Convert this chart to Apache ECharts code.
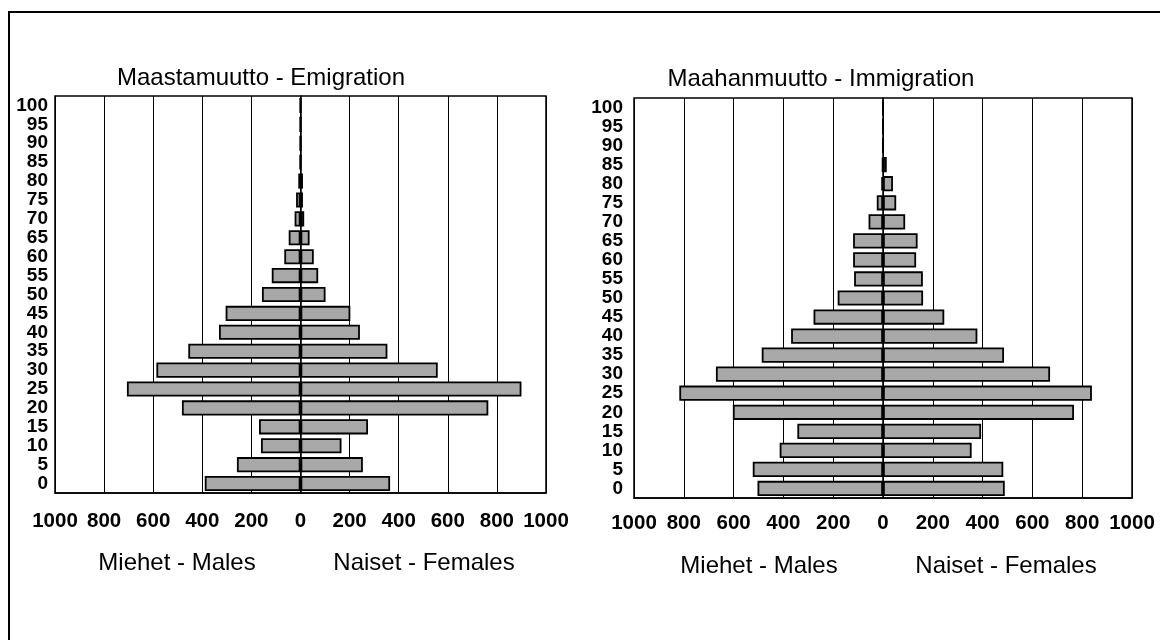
<!DOCTYPE html>
<html>
<head>
<meta charset="utf-8">
<script src="https://cdn.jsdelivr.net/npm/echarts@6/dist/echarts.min.js"></script>
<style>
html,body{margin:0;padding:0;background:#fff;}
#chart{width:1160px;height:640px;}
</style>
</head>
<body>
<div id="chart"></div>
<script>
// Age groups (bottom to top)
const ages = ['0','5','10','15','20','25','30','35','40','45','50','55','60','65','70','75','80','85','90','95','100'];
// Emigration (Maastamuutto)
const emigMales   = [390, 259, 161, 169, 483, 707, 587, 457, 332, 305, 157, 117, 66, 48, 24, 18, 9, 2, 0, 0, 0];
const emigFemales = [365, 254, 167, 275, 765, 900, 559, 354, 242, 203, 102, 72, 54, 37, 15, 10, 10, 2, 0, 0, 0];
// Immigration (Maahanmuutto)
const immMales    = [504, 523, 415, 344, 603, 818, 671, 487, 369, 279, 182, 116, 120, 120, 58, 25, 7, 3, 1, 0, 0];
const immFemales  = [489, 483, 356, 394, 767, 839, 671, 486, 379, 246, 161, 160, 133, 139, 89, 53, 40, 15, 1, 0, 0];
// Axis ticks
const xMin = -1000, xMax = 1000, xStep = 200;

const tickFont = "'Liberation Sans', Arial, sans-serif";
const regular = "'Liberation Sans', Arial, sans-serif";

const chart = echarts.init(document.getElementById('chart'), null, {renderer: 'canvas'});

const grids = [
  {left: 55, top: 96, width: 491, height: 397},
  {left: 634, top: 98, width: 498, height: 400}
];

function xAxis(i, margin) {
  return {
    type: 'value', gridIndex: i, min: xMin, max: xMax, interval: xStep,
    axisLine: {show: true, onZero: false, lineStyle: {color: '#000', width: 1.5}},
    axisTick: {show: false},
    splitLine: {show: true, lineStyle: {color: '#000', width: 1}},
    axisLabel: {
      formatter: v => String(Math.abs(v)),
      color: '#000', fontFamily: tickFont, fontWeight: 'bold', fontSize: 20.5, margin: margin,
      showMinLabel: true, showMaxLabel: true, hideOverlap: false
    }
  };
}
function yAxis(i, margin) {
  return {
    type: 'category', gridIndex: i, data: ages, boundaryGap: true,
    axisLine: {show: true, lineStyle: {color: '#000', width: 1.5}},
    axisTick: {show: false},
    splitLine: {show: false},
    axisLabel: {
      interval: 0, color: '#000', fontFamily: tickFont, fontWeight: 'bold', fontSize: 19,
      margin: margin, lineHeight: 19
    }
  };
}
const barStyle = {color: '#a8a8a8', borderColor: '#000', borderWidth: 1.8};
function bar(i, vals, neg) {
  return {
    type: 'bar', xAxisIndex: i, yAxisIndex: i,
    data: vals.map(v => neg ? -v : v),
    barGap: '-100%', barCategoryGap: '20%',
    itemStyle: barStyle, silent: true, animation: false
  };
}

function label(text, x, y, size) {
  return {
    type: 'text', x: x, y: y,
    style: {text: text, fill: '#000', font: size + 'px ' + regular, textAlign: 'center', textVerticalAlign: 'middle'}
  };
}

chart.setOption({
  animation: false,
  backgroundColor: '#fff',
  grid: grids.map(g => Object.assign({show: true, borderColor: '#000', borderWidth: 1.5, backgroundColor: 'transparent'}, g)),
  xAxis: [xAxis(0, 18), xAxis(1, 15)],
  yAxis: [yAxis(0, 7), yAxis(1, 11)],
  series: [
    bar(0, emigMales, true), bar(0, emigFemales, false),
    bar(1, immMales, true), bar(1, immFemales, false)
  ],
  graphic: [
    {type: 'rect', shape: {x: 9, y: 12, width: 1300, height: 1000}, style: {fill: 'none', stroke: '#000', lineWidth: 2}, silent: true},
    label('Maastamuutto - Emigration', 261, 78, 24),
    label('Maahanmuutto - Immigration', 821, 79, 24),
    label('Miehet - Males', 177, 563, 24),
    label('Naiset - Females', 424, 563, 24),
    label('Miehet - Males', 759, 566, 24),
    label('Naiset - Females', 1006, 566, 24)
  ]
});
</script>
</body>
</html>
